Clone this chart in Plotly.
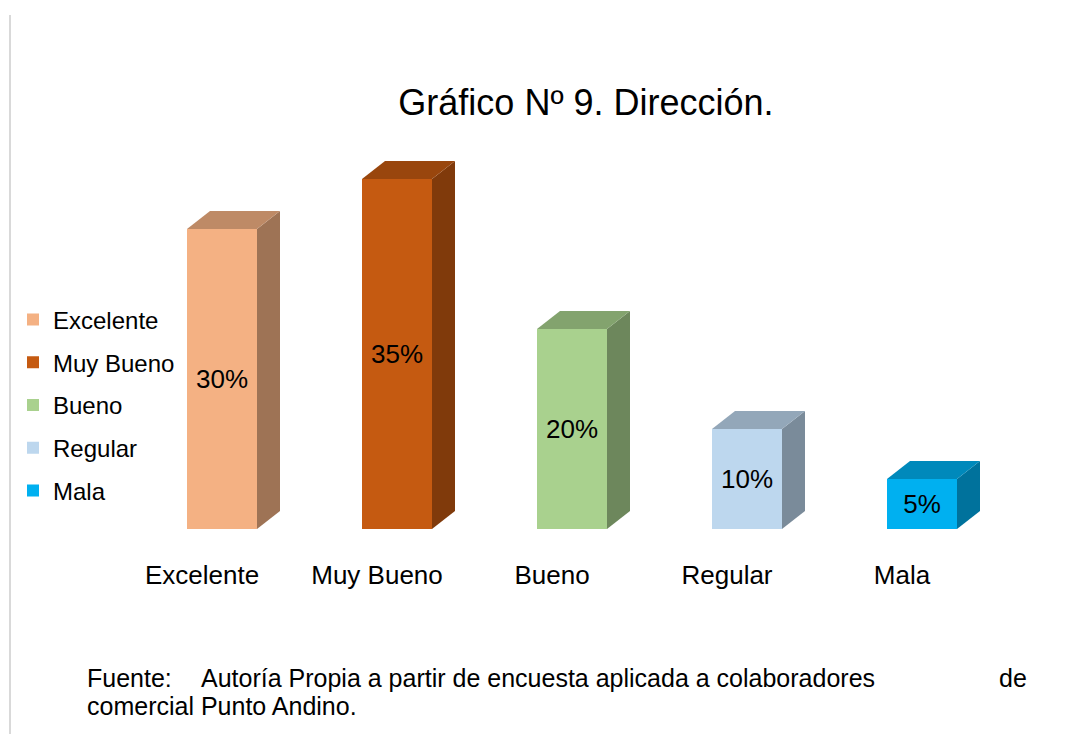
import plotly.graph_objects as go

# ---------------- data ----------------
categories = ["Excelente", "Muy Bueno", "Bueno", "Regular", "Mala"]
values = [30, 35, 20, 10, 5]          # percent
colors = ["#F4B183", "#C55A11", "#A9D18E", "#BDD7EE", "#00B0F0"]
title_text = "Gráfico Nº 9. Dirección."
source_line1_parts = ["Fuente:", "Autoría Propia a partir de encuesta aplicada a colaboradores", "de"]
source_line2 = "comercial Punto Andino."

# ---------------- geometry ----------------
W, H = 1080, 734
px_per_cat = 175.0
first_tick_px = 202.0
baseline_px = 529.0
px_per_pct = 10.0
axis_bottom_px = 557.0

x_range = [-first_tick_px / px_per_cat, (W - first_tick_px) / px_per_cat]
y_dom0 = 1 - axis_bottom_px / H
y_min = -(axis_bottom_px - baseline_px) / px_per_pct
y_max = y_min + axis_bottom_px / px_per_pct

bar_offset = -15.0 / px_per_cat
bar_width = 70.0 / px_per_cat
depth_x = 23.0 / px_per_cat
depth_y = 18.0 / px_per_pct

FONT = "Liberation Sans, Arial, sans-serif"


def shade(hex_color, f):
    h = hex_color.lstrip("#")
    r, g, b = (int(h[i:i + 2], 16) for i in (0, 2, 4))
    return "rgb({},{},{})".format(int(r * f), int(g * f), int(b * f))


fig = go.Figure()
xs = list(range(len(categories)))

# front faces (bars) with labels
for i, (cat, v, c) in enumerate(zip(categories, values, colors)):
    fig.add_trace(go.Bar(
        x=[xs[i]], y=[v], width=bar_width, offset=bar_offset,
        marker=dict(color=c, line=dict(width=0)),
        name=cat, legendgroup=cat,
        text=[f"{v}%"], textposition="inside", insidetextanchor="middle",
        textangle=0,
        insidetextfont=dict(family=FONT, size=26, color="black"),
        hoverinfo="skip",
    ))

# side and top faces
for i, (cat, v, c) in enumerate(zip(categories, values, colors)):
    xl = xs[i] + bar_offset
    xr = xl + bar_width
    fig.add_trace(go.Scatter(
        x=[xr, xr + depth_x, xr + depth_x, xr, xr],
        y=[0, depth_y, v + depth_y, v, 0],
        fill="toself", fillcolor=shade(c, 0.65), mode="lines",
        line=dict(width=0, color=shade(c, 0.65)),
        showlegend=False, hoverinfo="skip", legendgroup=cat,
    ))
    fig.add_trace(go.Scatter(
        x=[xl, xr, xr + depth_x, xl + depth_x, xl],
        y=[v, v, v + depth_y, v + depth_y, v],
        fill="toself", fillcolor=shade(c, 0.78), mode="lines",
        line=dict(width=0, color=shade(c, 0.78)),
        showlegend=False, hoverinfo="skip", legendgroup=cat,
    ))

fig.update_layout(
    width=W, height=H,
    margin=dict(l=0, r=0, t=0, b=0),
    paper_bgcolor="white", plot_bgcolor="white",
    showlegend=True,
    barmode="overlay",
    title=dict(text=title_text, x=586 / W, xanchor="center",
               y=1 - 102 / H, yanchor="middle", yref="container",
               font=dict(family=FONT, size=36, color="black")),
    legend=dict(x=13 / W, xanchor="left", y=1 - 405 / H, yanchor="middle",
                font=dict(family=FONT, size=24, color="black"),
                traceorder="grouped", tracegroupgap=8.5, itemwidth=30,
                bgcolor="rgba(0,0,0,0)", borderwidth=0),
    xaxis=dict(range=x_range, domain=[0, 1], tickvals=xs, ticktext=categories,
               showgrid=False, zeroline=False, showline=False, ticks="",
               tickfont=dict(family=FONT, size=26, color="black"), fixedrange=True),
    yaxis=dict(range=[y_min, y_max], domain=[y_dom0, 1], visible=False,
               showgrid=False, zeroline=False, fixedrange=True),
)

# left gray rule
fig.add_shape(type="line", xref="paper", yref="paper",
              x0=10 / W, x1=10 / W, y0=1 - 15 / H, y1=0,
              line=dict(color="#D9D9D9", width=2))

# source note
foot_font = dict(family=FONT, size=25, color="black")
fig.add_annotation(text=source_line1_parts[0], xref="paper", yref="paper",
                   x=85 / W, y=1 - 678 / H, xanchor="left", yanchor="middle",
                   showarrow=False, font=foot_font)
fig.add_annotation(text=source_line1_parts[1], xref="paper", yref="paper",
                   x=199 / W, y=1 - 678 / H, xanchor="left", yanchor="middle",
                   showarrow=False, font=foot_font)
fig.add_annotation(text=source_line1_parts[2], xref="paper", yref="paper",
                   x=1029 / W, y=1 - 678 / H, xanchor="right", yanchor="middle",
                   showarrow=False, font=foot_font)
fig.add_annotation(text=source_line2, xref="paper", yref="paper",
                   x=85 / W, y=1 - 706 / H, xanchor="left", yanchor="middle",
                   showarrow=False, font=foot_font)

fig.write_html("out.html", config={"displayModeBar": False},
               post_script="document.body.style.margin='0';document.body.style.overflow='hidden';")
